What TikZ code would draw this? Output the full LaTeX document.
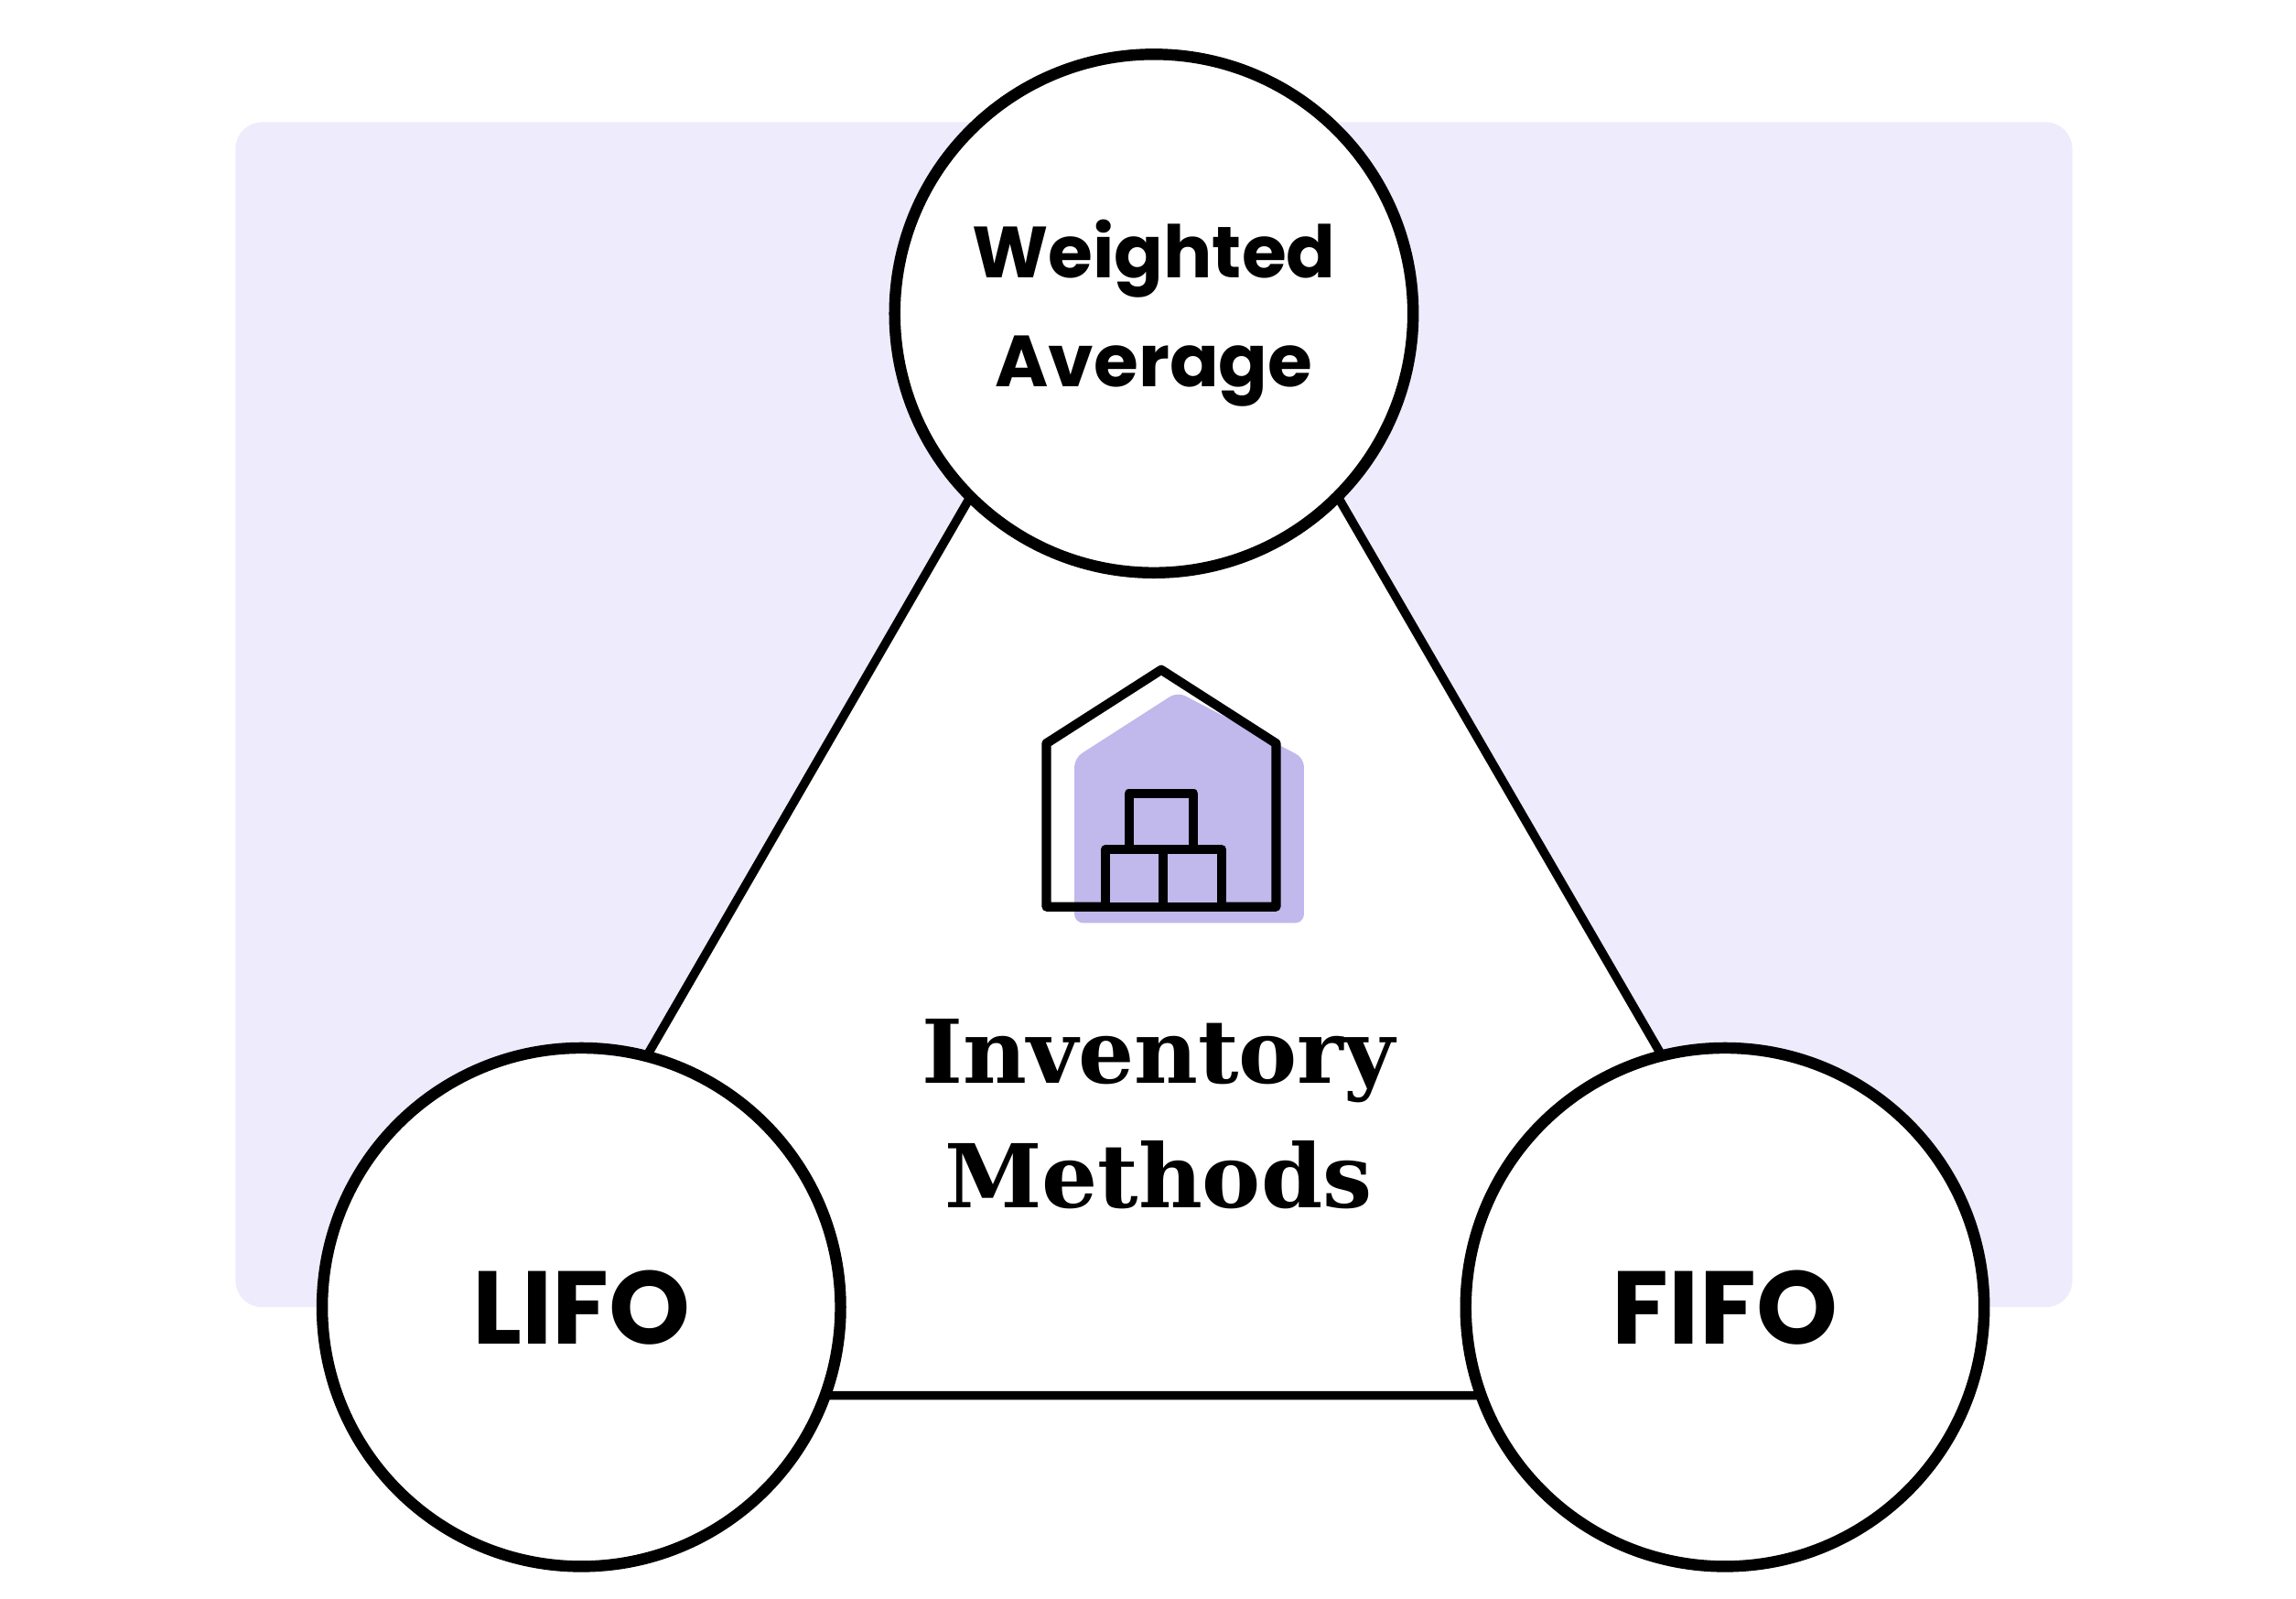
\documentclass[tikz,border=0pt]{standalone}
\usepackage{fontspec}
\setmainfont{Poppins}
\newfontfamily\serifbold{DejaVu Serif}
\definecolor{bgpurple}{HTML}{EEEBFC}
\definecolor{iconpurple}{HTML}{C1B8EC}
\begin{document}
\begin{tikzpicture}[x=0.01cm,y=-0.01cm,
  ring/.style={circle,draw=black,fill=white,line width=2.2pt,minimum size=3.52cm,inner sep=0pt,align=center},
  edge/.style={line width=1.7pt},
  ico/.style={line width=1.8pt,line join=round}]
\useasboundingbox (0,0) rectangle (1560,1086);
\fill[bgpurple,rounded corners=0.18cm] (160,83) rectangle (1408,888);
\coordinate (A) at (784,122);
\coordinate (B) at (306,948);
\coordinate (C) at (1263,948);
\draw[edge,fill=white] (A) -- (B) -- (C) -- cycle;
\node[ring,font=\bfseries\fontsize{14}{21}\selectfont] (wa) at (784,213) {Weighted\\Average};
\node[ring,font=\bfseries\fontsize{20}{24}\selectfont] (lifo) at (395,888) {LIFO};
\node[ring,font=\bfseries\fontsize{20}{24}\selectfont] (fifo) at (1172,888) {FIFO};
% icon
\fill[iconpurple,rounded corners=0.06cm] (730,515) -- (800,470) -- (886,515) -- (886,627) -- (730,627) -- cycle;
\draw[ico] (711,505) -- (789,455) -- (867,505) -- (867,616) -- (711,616) -- cycle;
\draw[ico,fill=iconpurple] (767,539) rectangle (811,577);
\draw[ico,fill=iconpurple] (751,577) rectangle (790,616);
\draw[ico,fill=iconpurple] (790,577) rectangle (830,616);
\node[font=\serifbold\bfseries\fontsize{17}{24}\selectfont,align=center] (im) at (787,757) {Inventory\\Methods};
\end{tikzpicture}
\end{document}
